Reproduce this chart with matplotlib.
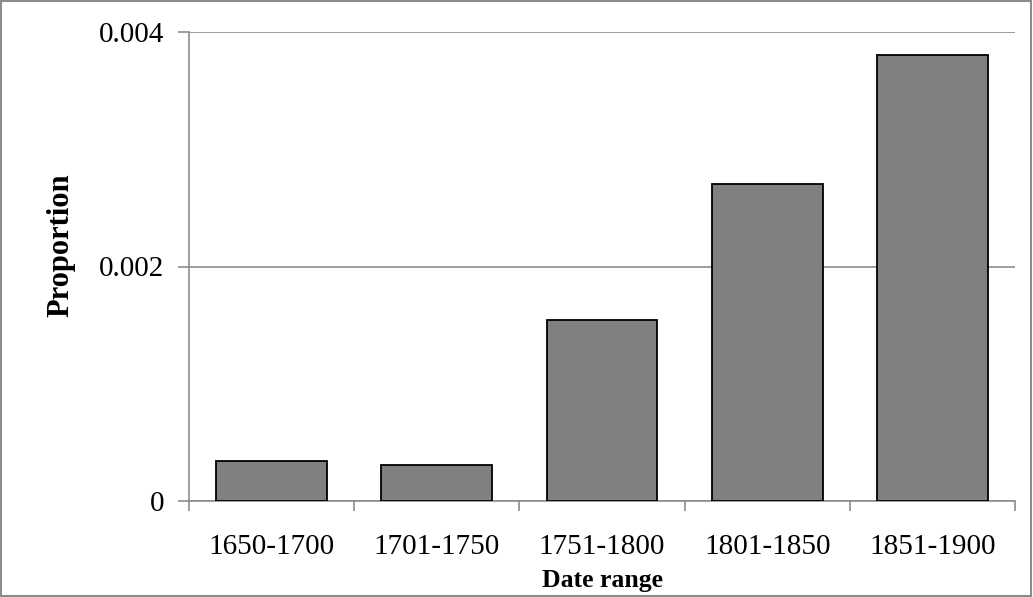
import matplotlib.pyplot as plt
import numpy as np

plt.rcParams['font.family'] = ['Liberation Serif', 'DejaVu Serif']

date_ranges = ['1650-1700', '1701-1750', '1751-1800', '1801-1850', '1851-1900']
proportions = [0.00034, 0.00031, 0.00154, 0.0027, 0.0038]

fig = plt.figure(figsize=(10.33, 5.97), dpi=100)
ax = fig.add_axes([189 / 1033, 1 - 501 / 597, 826 / 1033, 469 / 597])

x = np.arange(len(date_ranges))
ax.bar(x, proportions, width=0.67, color='#808080', edgecolor='black',
       linewidth=1.3, zorder=3)

ax.set_xlim(-0.5, len(date_ranges) - 0.5)
ax.set_ylim(0, 0.004)
ax.set_yticks([0, 0.002, 0.004])
ax.set_yticklabels(['0', '0.002', '0.004'])
ax.yaxis.grid(True, color='#8c8c8c', linewidth=1.2, zorder=0)

# category labels centered, ticks on category boundaries
ax.set_xticks(x)
ax.set_xticklabels(date_ranges)
ax.tick_params(axis='x', length=0, labelsize=21, pad=24)
ax.set_xticks(np.arange(len(date_ranges) + 1) - 0.5, minor=True)
ax.tick_params(axis='x', which='minor', length=7, width=1.2, color='#8c8c8c',
               direction='out')
ax.tick_params(axis='y', length=8, width=1.2, color='#8c8c8c', labelsize=21,
               pad=10)

for side in ['top', 'right']:
    ax.spines[side].set_visible(False)
for side in ['left', 'bottom']:
    ax.spines[side].set_color('#8c8c8c')
    ax.spines[side].set_linewidth(1.2)

ax.set_xlabel('Date range', fontsize=18.5, fontweight='bold', labelpad=6)
ax.set_ylabel('Proportion', fontsize=22, fontweight='bold', labelpad=17)
ax.yaxis.label.set_y(0.545)

# outer chart border
fig.patches.append(plt.Rectangle((0.001, 0.002), 0.997, 0.996,
                                 transform=fig.transFigure, fill=False,
                                 edgecolor='#8c8c8c', linewidth=1.5))

fig.savefig('out.png', dpi=100)
